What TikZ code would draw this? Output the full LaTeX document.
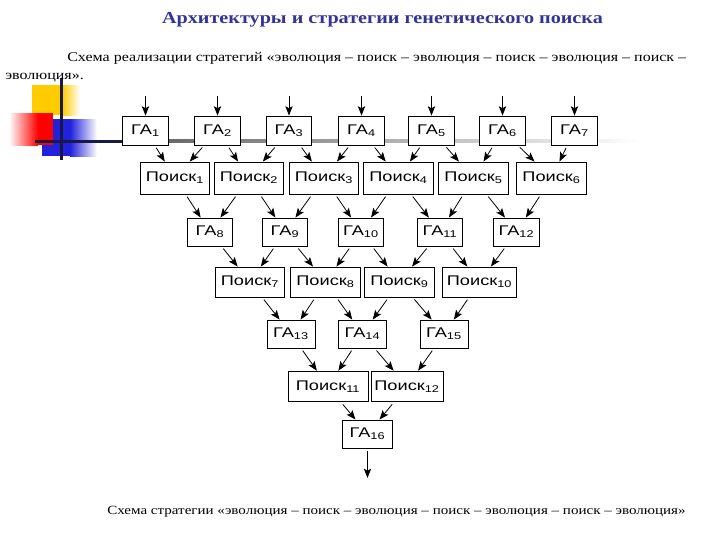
\documentclass[tikz,border=0pt]{standalone}
\usepackage{tikz}
\usepackage{fontspec}
\usetikzlibrary{arrows.meta}
\setmainfont{Liberation Serif}[FakeStretch=1.2]
\newfontfamily\boxfont{Liberation Sans}[FakeStretch=1.3]
\definecolor{titleblue}{RGB}{51,51,153}
\definecolor{decoyellow}{RGB}{255,204,0}
\definecolor{decored}{RGB}{255,0,0}
\definecolor{decoblue}{RGB}{34,34,221}
\definecolor{decoline}{RGB}{25,25,70}
\definecolor{linegray}{RGB}{90,90,90}

\tikzset{
  ga/.style={draw, fill=white, line width=0.7pt, minimum width=34pt, minimum height=21pt, inner sep=1pt, font=\boxfont\fontsize{10.5}{12}\selectfont},
  poisk/.style={ga, minimum width=52pt, minimum height=23pt},
  flow/.style={-{Stealth[length=7pt,width=5.5pt,inset=1.5pt]}, line width=0.6pt, shorten <=2pt},
}

\begin{document}
\begin{tikzpicture}[x=0.75pt,y=0.75pt,yscale=-1,xscale=1]
\useasboundingbox (0,0) rectangle (720,540);

%Decoration: squares and lines
\fill [decoyellow] (32,85) rectangle (62,115);
\shade [left color=decoyellow, right color=white] (62,85) rectangle (80,115);
\fill [decoblue] (42,119) rectangle (70,156);
\shade [left color=decoblue, right color=white] (70,119) rectangle (97,156);
\fill [decored] (38,113) rectangle (53,145);
\shade [left color=white, right color=decored] (9,113) rectangle (38,145);
\fill [decoline] (35,139.5) rectangle (123,142.5);
\shade [left color=linegray, right color=white] (123,139.5) rectangle (640,142.5);
\fill [decoline] (60,78) rectangle (63,160);

% Text Node
\node [anchor=base, font=\bfseries\fontsize{12.6}{15}\selectfont, text=titleblue] (title) at (382.5,23) {Архитектуры и стратегии генетического поиска};
% Text Node
\node [anchor=base west, inner sep=0pt, font=\fontsize{10}{12}\selectfont] (sub1) at (67,61) {Схема реализации стратегий «эволюция – поиск – эволюция – поиск – эволюция – поиск –};
\node [anchor=base west, inner sep=0pt, font=\fontsize{10}{12}\selectfont] (sub2) at (5,79) {эволюция».};
% Text Node
\node [anchor=base west, inner sep=0pt, font=\fontsize{9.4}{12}\selectfont] (caption) at (107,514) {Схема стратегии «эволюция – поиск – эволюция – поиск – эволюция – поиск – эволюция»};

%Row 1: GA
\node [ga, minimum height=21.75pt] (g1) at (145.5,130.5) {ГА\textsubscript{1}};
\node [ga, minimum height=21.75pt] (g2) at (217.5,130.5) {ГА\textsubscript{2}};
\node [ga, minimum height=21.75pt] (g3) at (289,130.5) {ГА\textsubscript{3}};
\node [ga, minimum height=21.75pt] (g4) at (361.5,130.5) {ГА\textsubscript{4}};
\node [ga, minimum height=21.75pt] (g5) at (431.5,130.5) {ГА\textsubscript{5}};
\node [ga, minimum height=21.75pt] (g6) at (502.5,130.5) {ГА\textsubscript{6}};
\node [ga, minimum height=21.75pt] (g7) at (574.5,130.5) {ГА\textsubscript{7}};
%Row 2: search
\node [poisk, minimum height=24pt] (p1) at (175,178) {Поиск\textsubscript{1}};
\node [poisk, minimum height=24pt] (p2) at (249,178) {Поиск\textsubscript{2}};
\node [poisk, minimum height=24pt] (p3) at (324,178) {Поиск\textsubscript{3}};
\node [poisk, minimum height=24pt] (p4) at (398.5,178) {Поиск\textsubscript{4}};
\node [poisk, minimum height=24pt] (p5) at (473.5,178) {Поиск\textsubscript{5}};
\node [poisk, minimum height=24pt] (p6) at (551.5,178) {Поиск\textsubscript{6}};
%Row 3: GA
\node [ga] (g8) at (210,232) {ГА\textsubscript{8}};
\node [ga] (g9) at (285,232) {ГА\textsubscript{9}};
\node [ga] (g10) at (361,232) {ГА\textsubscript{10}};
\node [ga] (g11) at (440,232) {ГА\textsubscript{11}};
\node [ga] (g12) at (516.5,232) {ГА\textsubscript{12}};
%Row 4: search
\node [poisk, minimum height=22.5pt] (p7) at (250,282) {Поиск\textsubscript{7}};
\node [poisk, minimum height=22.5pt] (p8) at (325.5,282) {Поиск\textsubscript{8}};
\node [poisk, minimum height=22.5pt] (p9) at (399.5,282) {Поиск\textsubscript{9}};
\node [poisk, minimum height=22.5pt, minimum width=56pt] (p10) at (479.5,282) {Поиск\textsubscript{10}};
%Row 5: GA
\node [ga, minimum width=36pt] (g13) at (291,334) {ГА\textsubscript{13}};
\node [ga, minimum width=36pt] (g14) at (362.5,334) {ГА\textsubscript{14}};
\node [ga, minimum width=36pt] (g15) at (444,334) {ГА\textsubscript{15}};
%Row 6: search
\node [poisk, minimum width=60pt] (p11) at (328,386.5) {Поиск\textsubscript{11}};
\node [poisk, minimum width=54pt] (p12) at (407,386.5) {Поиск\textsubscript{12}};
%Row 7: GA
\node [ga, minimum width=37pt] (g16) at (367.5,434) {ГА\textsubscript{16}};

%Inputs and output
\coordinate (i1) at (145.5,93);
\coordinate (i2) at (217.5,93);
\coordinate (i3) at (289,93);
\coordinate (i4) at (361.5,93);
\coordinate (i5) at (431.5,93);
\coordinate (i6) at (502.5,93);
\coordinate (i7) at (574.5,93);
\coordinate (o16) at (367.5,478);
\draw [flow] (i1) -- (g1);
\draw [flow] (i2) -- (g2);
\draw [flow] (i3) -- (g3);
\draw [flow] (i4) -- (g4);
\draw [flow] (i5) -- (g5);
\draw [flow] (i6) -- (g6);
\draw [flow] (i7) -- (g7);
\draw [flow] (g16) -- (o16);

%GA -> search
\draw [flow] (g1) -- (p1);
\draw [flow] (g2) -- (p1);
\draw [flow] (g2) -- (p2);
\draw [flow] (g3) -- (p2);
\draw [flow] (g3) -- (p3);
\draw [flow] (g4) -- (p3);
\draw [flow] (g4) -- (p4);
\draw [flow] (g5) -- (p4);
\draw [flow] (g5) -- (p5);
\draw [flow] (g6) -- (p5);
\draw [flow] (g6) -- (p6);
\draw [flow] (g7) -- (p6);
%search -> GA
\draw [flow] (p1) -- (g8);
\draw [flow] (p2) -- (g8);
\draw [flow] (p2) -- (g9);
\draw [flow] (p3) -- (g9);
\draw [flow] (p3) -- (g10);
\draw [flow] (p4) -- (g10);
\draw [flow] (p4) -- (g11);
\draw [flow] (p5) -- (g11);
\draw [flow] (p5) -- (g12);
\draw [flow] (p6) -- (g12);
%GA -> search
\draw [flow] (g8) -- (p7);
\draw [flow] (g9) -- (p7);
\draw [flow] (g9) -- (p8);
\draw [flow] (g10) -- (p8);
\draw [flow] (g10) -- (p9);
\draw [flow] (g11) -- (p9);
\draw [flow] (g11) -- (p10);
\draw [flow] (g12) -- (p10);
%search -> GA
\draw [flow] (p7) -- (g13);
\draw [flow] (p8) -- (g13);
\draw [flow] (p8) -- (g14);
\draw [flow] (p9) -- (g14);
\draw [flow] (p9) -- (g15);
\draw [flow] (p10) -- (g15);
%GA -> search
\draw [flow] (g13) -- (p11);
\draw [flow] (g14) -- (p11);
\draw [flow] (g14) -- (p12);
\draw [flow] (g15) -- (p12);
%search -> GA
\draw [flow] (p11) -- (g16);
\draw [flow] (p12) -- (g16);

\end{tikzpicture}
\end{document}
